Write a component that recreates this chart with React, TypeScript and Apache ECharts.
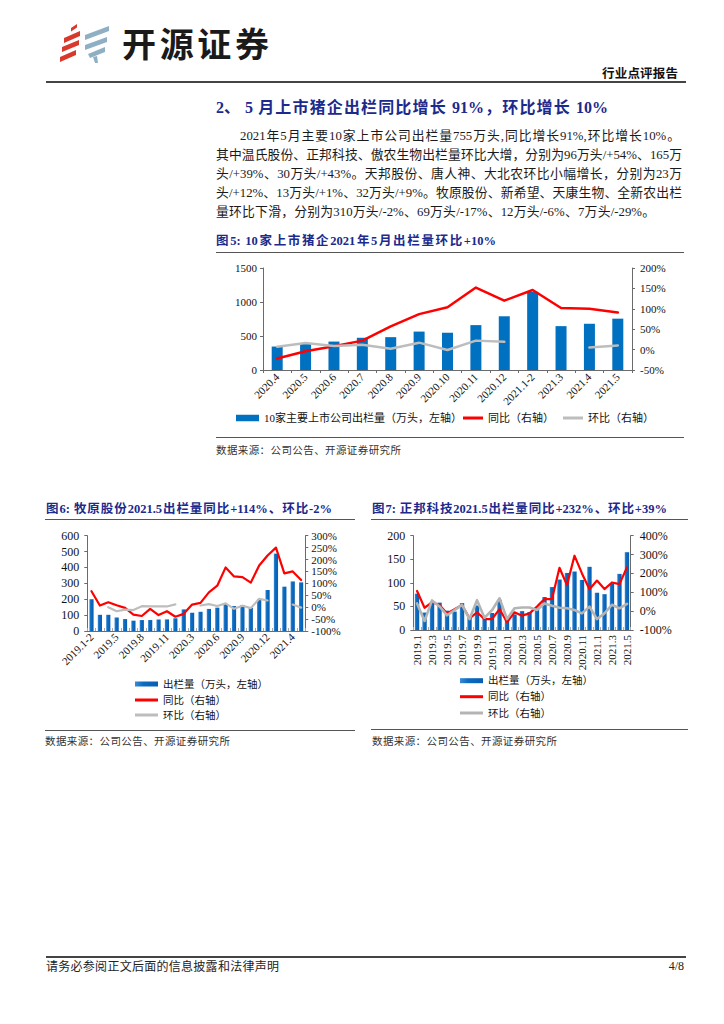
import React, { useEffect, useRef } from 'react';
import * as echarts from 'echarts';

const SERIF = "'Liberation Serif', 'Noto Sans CJK SC', serif";
const SANS = "'Noto Sans CJK SC', 'Noto Sans', sans-serif";
const NAVY = '#1b2a8c';
const AXIS = '#6b6b6b';
const RED = '#ff0000';
const GRAY = '#bdbdbd';
const BLUE = '#0070c0';

// ---------- Figure 5 ----------
const cats5 = ['2020.4', '2020.5', '2020.6', '2020.7', '2020.8', '2020.9', '2020.10', '2020.11', '2020.12', '2021.1-2', '2021.3', '2021.4', '2021.5'];
const vol5 = [345, 385, 418, 474, 483, 565, 548, 660, 790, 1150, 645, 680, 755];
const yoy5 = [-22, -4, 8, 22, 57, 87, 104, 152, 120, 146, 102, 100, 91];
const mom5 = [7, 16, 9, 12, 2, 17, -1, 22, 19, null, null, 5, 10];
const leftTicks5 = [0, 500, 1000, 1500];
const rightTicks5 = [-50, 0, 50, 100, 150, 200];

// ---------- Figure 6 ----------
const cats6 = ['2019.1-2', '2019.3', '2019.4', '2019.5', '2019.6', '2019.7', '2019.8', '2019.9', '2019.10', '2019.11', '2019.12', '2020.1-2', '2020.3', '2020.4', '2020.5', '2020.6', '2020.7', '2020.8', '2020.9', '2020.10', '2020.11', '2020.12', '2021.1-2', '2021.3', '2021.4', '2021.5'];
const vol6 = [200, 102, 102, 85, 75, 65, 69, 69, 72, 73, 80, 136, 115, 121, 139, 147, 170, 157, 164, 147, 201, 258, 487, 279, 312, 306];
const yoy6 = [67, 7, 21, 8, -3, -31, -37, -7, -33, -17, -40, -28, 11, 18, 62, 90, 167, 129, 126, 103, 175, 217, 250, 142, 150, 114];
const mom6 = [null, null, 0, -17, -10, -12, 4, 3, 3, 3, 12, null, null, 7, 13, 5, 16, -7, 6, -4, 35, 28, null, null, 11, -2];
const leftTicks6 = [0, 100, 200, 300, 400, 500, 600];
const rightTicks6 = [-100, -50, 0, 50, 100, 150, 200, 250, 300];

// ---------- Figure 7 ----------
const cats7 = ['2019.1', '2019.2', '2019.3', '2019.4', '2019.5', '2019.6', '2019.7', '2019.8', '2019.9', '2019.10', '2019.11', '2019.12', '2020.1', '2020.2', '2020.3', '2020.4', '2020.5', '2020.6', '2020.7', '2020.8', '2020.9', '2020.10', '2020.11', '2020.12', '2021.1', '2021.2', '2021.3', '2021.4', '2021.5'];
const vol7 = [77, 37, 60, 58, 41, 39, 57, 26, 52, 25, 36, 64, 29, 33, 40, 38, 46, 70, 91, 107, 121, 124, 106, 134, 79, 76, 99, 119, 165];
const yoy7 = [107, 18, 47, 33, -12, 10, 33, -38, -6, -42, -42, 11, -59, -6, -24, -12, 24, 64, 64, 230, 138, 294, 200, 116, 162, 117, 152, 143, 232];
const mom7 = [41, -52, 57, 25, -22, 5, 33, -42, 58, -35, 5, 68, -42, 15, 19, 19, 6, 41, 29, 18, 15, 6, -12, 24, -42, -12, 34, 15, 39];
const leftTicks7 = [0, 50, 100, 150, 200];
const rightTicks7 = [-100, 0, 100, 200, 300, 400];

const nameBar5 = '10家主要上市公司出栏量（万头，左轴）';
const nameBar = '出栏量（万头，左轴）';
const nameYoy = '同比（右轴）';
const nameMom = '环比（右轴）';

const paragraph = [
  '2021年5月主要10家上市公司出栏量755万头,同比增长91%,环比增长10%。',
  '其中温氏股份、正邦科技、傲农生物出栏量环比大增，分别为96万头/+54%、165万',
  '头/+39%、30万头/+43%。天邦股份、唐人神、大北农环比小幅增长，分别为23万',
  '头/+12%、13万头/+1%、32万头/+9%。牧原股份、新希望、天康生物、全新农出栏',
  '量环比下滑，分别为310万头/-2%、69万头/-17%、12万头/-6%、7万头/-29%。',
];

function yAxisCfg(ticks: number[], pos: string, pct: boolean, fs: number, margin: number) {
  return {
    type: 'value',
    position: pos,
    min: ticks[0],
    max: ticks[ticks.length - 1],
    interval: ticks[1] - ticks[0],
    axisLine: { show: true, lineStyle: { color: AXIS, width: 1 } },
    axisTick: { show: true, length: 3, inside: false, lineStyle: { color: AXIS } },
    splitLine: { show: false },
    axisLabel: {
      fontSize: fs,
      lineHeight: fs,
      fontFamily: SERIF,
      color: '#111',
      margin,
      formatter: (v: number) => (pct ? String(v) + '%' : String(v)),
    },
  };
}

function xAxisCfg(cats: string[], interval: number, rotate: number, fs: number, margin: number, tickInside: boolean, tickColor: string) {
  return {
    type: 'category',
    data: cats,
    axisLine: { show: true, onZero: false, lineStyle: { color: AXIS, width: 1 } },
    axisTick: { show: true, interval: 0, inside: tickInside, length: 3, lineStyle: { color: tickColor } },
    axisLabel: { interval, rotate, fontSize: fs, fontFamily: SERIF, color: '#111', margin },
    splitLine: { show: false },
  };
}

function legendItem(name: string, left: number, cy: number, w: number, h: number, fs: number) {
  const lh = fs + 2;
  return {
    data: [name],
    left,
    top: cy - lh / 2,
    orient: 'horizontal',
    icon: 'rect',
    itemWidth: w,
    itemHeight: h,
    padding: 0,
    selectedMode: false,
    textStyle: { fontSize: fs, fontFamily: SERIF, color: '#111', lineHeight: lh },
  };
}

const barGrad = {
  type: 'linear',
  x: 0, y: 0, x2: 1, y2: 0,
  colorStops: [
    { offset: 0, color: '#3b8ad4' },
    { offset: 0.35, color: '#0a6cc2' },
    { offset: 1, color: '#0a5eae' },
  ],
};

function lineSeries(name: string, data: (number | null)[], color: string, width: number) {
  return {
    type: 'line',
    name,
    data,
    xAxisIndex: 0,
    yAxisIndex: 1,
    symbol: 'none',
    showSymbol: false,
    connectNulls: false,
    lineStyle: { color, width, join: 'round', cap: 'round' },
    itemStyle: { color },
    z: 3,
  };
}

const option5 = {
  animation: false,
  grid: { left: 63, top: 13, width: 369, height: 102, containLabel: false, outerBoundsMode: 'none' },
  xAxis: [xAxisCfg(cats5, 0, 45, 11, 5, false, AXIS)],
  yAxis: [yAxisCfg(leftTicks5, 'left', false, 11, 6), yAxisCfg(rightTicks5, 'right', true, 11, 8)],
  legend: [
    legendItem(nameBar5, 36, 163, 23, 6.5, 11),
    legendItem(nameYoy, 263, 163, 20, 3, 11),
    legendItem(nameMom, 363, 163, 20, 3, 11),
  ],
  series: [
    { type: 'bar', name: nameBar5, data: vol5, barWidth: 11, itemStyle: { color: BLUE }, xAxisIndex: 0, yAxisIndex: 0 },
    lineSeries(nameYoy, yoy5, RED, 2.5),
    lineSeries(nameMom, mom5, GRAY, 2.5),
  ],
};

const option6 = {
  animation: false,
  grid: { left: 57.3, top: 10.7, width: 218, height: 95.3, containLabel: false, outerBoundsMode: 'none' },
  xAxis: [xAxisCfg(cats6, 2, 45, 11, 4, true, '#a8a8a8')],
  yAxis: [yAxisCfg(leftTicks6, 'left', false, 12, 8), yAxisCfg(rightTicks6, 'right', true, 11, 6)],
  legend: [
    legendItem(nameBar, 105, 159, 23, 5, 10.5),
    legendItem(nameYoy, 105, 175, 23, 3, 10.5),
    legendItem(nameMom, 105, 190, 23, 3, 10.5),
  ],
  series: [
    { type: 'bar', name: nameBar, data: vol6, barWidth: '50%', itemStyle: { color: barGrad }, xAxisIndex: 0, yAxisIndex: 0 },
    lineSeries(nameYoy, yoy6, RED, 2.2),
    lineSeries(nameMom, mom6, GRAY, 2.2),
  ],
};

const option7 = {
  animation: false,
  grid: { left: 53.3, top: 10.7, width: 217.4, height: 94.3, containLabel: false, outerBoundsMode: 'none' },
  xAxis: [xAxisCfg(cats7, 1, 90, 11, 5, true, '#a8a8a8')],
  yAxis: [yAxisCfg(leftTicks7, 'left', false, 12, 8), yAxisCfg(rightTicks7, 'right', true, 12, 9)],
  legend: [
    legendItem(nameBar, 100, 155.7, 23, 5, 10.5),
    legendItem(nameYoy, 100, 171.7, 23, 3, 10.5),
    legendItem(nameMom, 100, 188, 23, 3, 10.5),
  ],
  series: [
    { type: 'bar', name: nameBar, data: vol7, barWidth: '58%', itemStyle: { color: barGrad }, xAxisIndex: 0, yAxisIndex: 0 },
    lineSeries(nameYoy, yoy7, RED, 2.2),
    lineSeries(nameMom, mom7, '#b4b4b4', 2.6),
  ],
};

// logo polygons (page coordinates, offset below)
const LOGO_X = 56;
const LOGO_Y = 20;
const logoRed = [
  [[71, 28], [77, 24], [77, 27.5], [71, 31.5]],
  [[64, 38], [80, 31], [80, 36], [64, 43]],
  [[62, 47], [79, 40], [79, 45], [62, 52]],
  [[60, 57], [76, 50], [76, 55], [60, 62]],
];
const logoBlue = [
  [[85, 35], [109, 26], [109, 31], [85, 40]],
  [[85, 45], [107, 37], [107, 42], [85, 50]],
  [[88, 54], [105, 47], [105, 52], [90, 58]],
  [[93, 57], [97, 56], [98, 63], [95, 63]],
];

const optionLogo = {
  animation: false,
  graphic: [
    ...logoRed.map((pts) => ({
      type: 'polygon',
      shape: { points: pts.map(([x, y]) => [x - LOGO_X, y - LOGO_Y]) },
      style: { fill: '#d8392c' },
    })),
    ...logoBlue.map((pts) => ({
      type: 'polygon',
      shape: { points: pts.map(([x, y]) => [x - LOGO_X, y - LOGO_Y]) },
      style: { fill: '#8fb0c3' },
    })),
  ],
};

function EChart({ option, left, top, width, height }: any) {
  const ref = useRef<HTMLDivElement>(null);
  useEffect(() => {
    const chart = echarts.init(ref.current as HTMLDivElement, null, { renderer: 'svg' });
    chart.setOption(option);
    return () => chart.dispose();
  }, []);
  return <div ref={ref} style={{ position: 'absolute', left, top, width, height }} />;
}

function T({ x, y, w, fs, text, bold = false, color = '#1a1a1a', family = SERIF, justify = true, align = 'left' }: any) {
  const style: any = {
    position: 'absolute',
    left: x,
    top: y - fs * 0.75,
    width: w,
    height: fs * 1.5,
    lineHeight: fs * 1.5 + 'px',
    fontSize: fs,
    fontFamily: family,
    fontWeight: bold ? 700 : 400,
    color,
    textAlign: justify ? 'justify' : align,
    textAlignLast: justify ? 'justify' : align,
    margin: 0,
    padding: 0,
  };
  return <div style={style}>{text}</div>;
}

function Rule({ x, y, w, h = 1, color = '#555' }: any) {
  return <div style={{ position: 'absolute', left: x, top: y, width: w, height: h, background: color }} />;
}

export default function App() {
  const lineYs = [136.7, 155.7, 174.6, 193.6, 212.6];
  return (
    <div style={{ position: 'absolute', left: 0, top: 0, width: 724, height: 1024, background: '#fff', overflow: 'hidden' }}>
      {/* header */}
      <EChart option={optionLogo} left={LOGO_X} top={LOGO_Y} width={58} height={46} />
      <T x={122} y={42} w={147} fs={34} text="开源证券" bold family={SANS} color="#1a1a1a" />
      <T x={602} y={73} w={76} fs={12.5} text="行业点评报告" bold family={SANS} color="#111" />
      <Rule x={46} y={81} w={640} h={2} color="#444" />

      {/* section heading */}
      <T x={216} y={108} w={20} fs={16} text="2、" bold color={NAVY} justify={false} />
      <T x={245} y={108} w={363} fs={16} text="5 月上市猪企出栏同比增长 91%，环比增长 10%" bold color={NAVY} />

      {/* paragraph */}
      <T x={240} y={lineYs[0]} w={440} fs={12.8} text={paragraph[0]} />
      <T x={216} y={lineYs[1]} w={466} fs={12.8} text={paragraph[1]} />
      <T x={216} y={lineYs[2]} w={466} fs={12.8} text={paragraph[2]} />
      <T x={216} y={lineYs[3]} w={466} fs={12.8} text={paragraph[3]} />
      <T x={216} y={lineYs[4]} w={439} fs={12.8} text={paragraph[4]} />

      {/* figure 5 */}
      <T x={216} y={241.7} w={280} fs={12.5} text="图5: 10家上市猪企2021年5月出栏量环比+10%" bold color={NAVY} />
      <Rule x={216} y={252} w={468} h={1.2} />
      <EChart option={option5} left={200} top={255} width={490} height={185} />
      <Rule x={216} y={436.5} w={468} h={1.2} />
      <T x={216} y={450} w={185} fs={10.5} text="数据来源：公司公告、开源证券研究所" family={SANS} color="#333" />

      {/* figure 6 */}
      <T x={46} y={509} w={286} fs={12.5} text="图6: 牧原股份2021.5出栏量同比+114%、环比-2%" bold color={NAVY} />
      <Rule x={45} y={519} w={310} h={1.2} />
      <EChart option={option6} left={30} top={525} width={330} height={210} />
      <Rule x={45} y={730} w={310} h={1.2} />
      <T x={45} y={741} w={185} fs={10.5} text="数据来源：公司公告、开源证券研究所" family={SANS} color="#333" />

      {/* figure 7 */}
      <T x={372} y={509} w={295} fs={12.5} text="图7: 正邦科技2021.5出栏量同比+232%、环比+39%" bold color={NAVY} />
      <Rule x={371} y={519} w={317} h={1.2} />
      <EChart option={option7} left={360} top={525} width={330} height={210} />
      <Rule x={371} y={729.3} w={317} h={1.2} />
      <T x={372} y={741} w={185} fs={10.5} text="数据来源：公司公告、开源证券研究所" family={SANS} color="#333" />

      {/* footer */}
      <Rule x={46} y={956} w={640} h={2} color="#444" />
      <T x={46} y={966} w={233} fs={12} text="请务必参阅正文后面的信息披露和法律声明" family={SANS} color="#222" />
      <T x={640} y={966} w={44} fs={12} text="4/8" justify={false} align="right" color="#222" />
    </div>
  );
}
